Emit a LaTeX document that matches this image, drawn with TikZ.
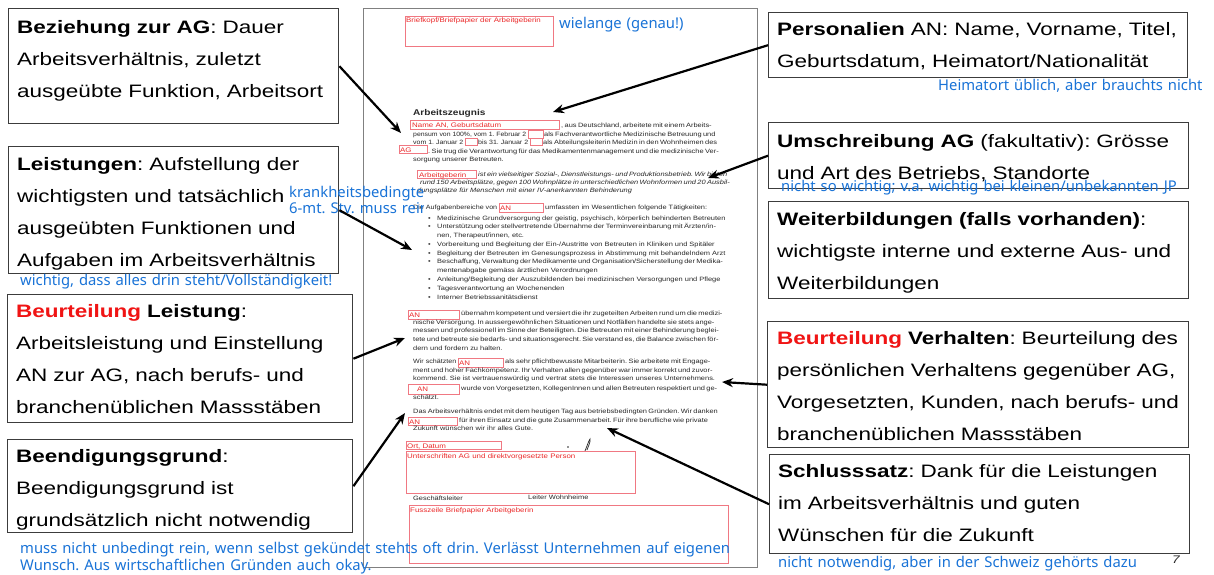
\documentclass[tikz,border=0pt]{standalone}
\usepackage{fontspec}
\usepackage{graphicx}
\usetikzlibrary{arrows.meta}
\setmainfont{Liberation Sans}
\newfontfamily\boxfont[FakeStretch=1.25]{Liberation Sans}
\newfontfamily\inkfont{Noto Sans}
\newfontfamily\docfont[FakeStretch=1.2]{Liberation Sans}
\frenchspacing

\definecolor{boxline}{RGB}{60,60,60}
\definecolor{pageline}{RGB}{128,128,128}
\definecolor{ink}{RGB}{25,115,215}
\definecolor{hlred}{RGB}{240,20,20}
\definecolor{fieldline}{RGB}{240,120,130}
\definecolor{fieldtext}{RGB}{235,40,40}
\definecolor{doctext}{RGB}{40,40,40}

% justified line of the letter body
\newcommand\jline[2]{\makebox[#1pt][s]{#2}}
% short text piece squeezed between two form fields
\newcommand\fitline[2]{\resizebox{#1pt}{\height}{#2}}

\tikzset{
  infobox/.style={draw=boxline, line width=1.4pt, fill=white, inner sep=0pt, anchor=north west},
  boxtext/.style={anchor=base west, inner sep=0pt, text width=440pt, align=left,
    font=\boxfont\fontsize{18}{32}\selectfont, text=black},
  note/.style={anchor=base west, inner sep=0pt, text width=760pt, align=left,
    font=\inkfont\fontsize{14.8}{17}\selectfont, text=ink},
  pointer/.style={draw=black, line width=2.2pt, -{Stealth[length=11pt, width=9pt]}},
  page/.style={draw=pageline, line width=1.2pt, fill=white, inner sep=0pt, anchor=north west},
  field/.style={draw=fieldline, line width=0.8pt, inner sep=0pt, anchor=north west},
  fieldlabel/.style={anchor=base west, inner sep=0pt, font=\docfont\fontsize{6.6}{7}\selectfont, text=fieldtext},
  doc/.style={anchor=base west, inner sep=0pt, font=\docfont\fontsize{6.2}{7}\selectfont, text=doctext},
  docit/.style={doc, font=\docfont\itshape\fontsize{6.2}{7}\selectfont},
}

\begin{document}
\begin{tikzpicture}[x=1pt, y=-1pt]
\useasboundingbox (0,0) rectangle (1214,574);
\fill[white] (0,0) rectangle (1214,574);

% ---------- the letter page ----------
\node[page, minimum width=394, minimum height=559] (pg) at (363,8) {};

\node[field, minimum width=148, minimum height=30] (fHead) at (405,16) {};
\node[fieldlabel] (fHeadL) at (406,22) {Briefkopf/Briefpapier der Arbeitgeberin};

\node[doc, font=\docfont\bfseries\fontsize{8.4}{9}\selectfont] (title) at (413,115) {Arbeitszeugnis};

% Personalien
\node[field, minimum width=149, minimum height=9] (fName) at (410,120) {};
\node[fieldlabel] (fNameL) at (412,127) {Name AN, Geburtsdatum};
\node[doc] (l1) at (561,127) {\jline{146}{, aus Deutschland, arbeitete mit einem Arbeits-}};
\node[doc] (l2a) at (413,136) {\fitline{113}{pensum von 100\%, vom 1. Februar 2}};
\node[field, minimum width=15, minimum height=8] (fD1) at (528,130) {};
\node[doc] (l2b) at (544,136) {\jline{163}{als Fachverantwortliche Medizinische Betreuung und}};
\node[doc] (l3a) at (413,144) {\fitline{50}{vom 1. Januar 2}};
\node[field, minimum width=12, minimum height=7] (fD2) at (465,138) {};
\node[doc] (l3b) at (478,144) {\fitline{50}{bis 31. Januar 2}};
\node[field, minimum width=12, minimum height=7] (fD3) at (530,138) {};
\node[doc] (l3c) at (543,144) {\jline{164}{als Abteilungsleiterin Medizin in den Wohnheimen des}};
\node[field, minimum width=28, minimum height=8] (fAG) at (399,145) {};
\node[fieldlabel] (fAGL) at (400,152) {AG};
\node[doc] (l4) at (428,153) {\jline{279}{. Sie trug die Verantwortung für das Medikamentenmanagement und die medizinische Ver-}};
\node[doc] (l5) at (413,161) {sorgung unserer Betreuten.};

% Umschreibung Arbeitgeberin
\node[field, minimum width=59, minimum height=8] (fAGb) at (417,170) {};
\node[fieldlabel] (fAGbL) at (419,177) {Arbeitgeberin};
\node[docit] (l6) at (478,176) {\jline{219}{ist ein vielseitiger Sozial-, Dienstleistungs- und Produktionsbetrieb. Wir bieten}};
\node[docit] (l7) at (420,184) {\jline{279}{rund 150 Arbeitsplätze, gegen 100 Wohnplätze in unterschiedlichen Wohnformen und 20 Ausbil-}};
\node[docit] (l8) at (417,192) {dungsplätze für Menschen mit einer IV-anerkannten Behinderung};

% Aufgaben
\node[doc] (l9a) at (413,209) {\fitline{84}{Die Aufgabenbereiche von}};
\node[field, minimum width=44, minimum height=9] (fAN1) at (499,203) {};
\node[fieldlabel] (fAN1L) at (500,210) {AN};
\node[doc] (l9b) at (545,209) {umfassten im Wesentlichen folgende Tätigkeiten:};
\foreach \y/\t in {220/{Medizinische Grundversorgung der geistig, psychisch, körperlich behinderten Betreuten},
                   246/{Vorbereitung und Begleitung der Ein-/Austritte von Betreuten in Kliniken und Spitäler},
                   255/{Begleitung der Betreuten im Genesungsprozess in Abstimmung mit behandelndem Arzt},
                   281/{Anleitung/Begleitung der Auszubildenden bei medizinischen Versorgungen und Pflege},
                   290/{Tagesverantwortung an Wochenenden},
                   299/{Interner Betriebssanitätsdienst}}{
  \node[doc] (dot\y) at (428,\y) {\textbullet};
  \node[doc] (item\y) at (437,\y) {\t};
}
\node[doc] (dot228) at (428,228) {\textbullet};
\node[doc] (item228) at (437,228) {\jline{270}{Unterstützung oder stellvertretende Übernahme der Terminvereinbarung mit Ärzten/in-}};
\node[doc] (item237) at (437,237) {nen, Therapeut/innen, etc.};
\node[doc] (dot263) at (428,263) {\textbullet};
\node[doc] (item263) at (437,263) {\jline{270}{Beschaffung, Verwaltung der Medikamente und Organisation/Sicherstellung der Medika-}};
\node[doc] (item272) at (437,272) {mentenabgabe gemäss ärztlichen Verordnungen};

% Leistungsbeurteilung
\node[field, minimum width=51, minimum height=9] (fAN2) at (408,310) {};
\node[fieldlabel] (fAN2L) at (409,317) {AN};
\node[doc] (p1a) at (461,315) {\jline{246}{übernahm kompetent und versiert die ihr zugeteilten Arbeiten rund um die medizi-}};
\node[doc] (p1b) at (413,324) {\jline{294}{nische Versorgung. In aussergewöhnlichen Situationen und Notfällen handelte sie stets ange-}};
\node[doc] (p1c) at (413,332) {\jline{294}{messen und professionell im Sinne der Beteiligten. Die Betreuten mit einer Behinderung beglei-}};
\node[doc] (p1d) at (413,341) {\jline{294}{tete und betreute sie bedarfs- und situationsgerecht. Sie verstand es, die Balance zwischen för-}};
\node[doc] (p1e) at (413,350) {dern und fordern zu halten.};

% Verhaltensbeurteilung
\node[doc] (p2a) at (413,363) {\fitline{43}{Wir schätzten}};
\node[field, minimum width=45, minimum height=9] (fAN3) at (458,358) {};
\node[fieldlabel] (fAN3L) at (459,365) {AN};
\node[doc] (p2b) at (505,363) {\jline{202}{als sehr pflichtbewusste Mitarbeiterin. Sie arbeitete mit Engage-}};
\node[doc] (p2c) at (413,372) {\jline{294}{ment und hoher Fachkompetenz. Ihr Verhalten allen gegenüber war immer korrekt und zuvor-}};
\node[doc] (p2d) at (413,380) {kommend. Sie ist vertrauenswürdig und vertrat stets die Interessen unseres Unternehmens.};
\node[field, minimum width=51, minimum height=10] (fAN4) at (408,384) {};
\node[fieldlabel] (fAN4L) at (417,391) {AN};
\node[doc] (p2e) at (461,390) {\jline{246}{wurde von Vorgesetzten, KollegenInnen und allen Betreuten respektiert und ge-}};
\node[doc] (p2f) at (413,399) {schätzt.};

% Beendigung und Schlusssatz
\node[doc] (p3a) at (413,413) {\jline{294}{Das Arbeitsverhältnis endet mit dem heutigen Tag aus betriebsbedingten Gründen. Wir danken}};
\node[field, minimum width=49, minimum height=8] (fAN5) at (408,417) {};
\node[fieldlabel] (fAN5L) at (409,424) {AN};
\node[doc] (p3b) at (459,422) {\jline{240}{für ihren Einsatz und die gute Zusammenarbeit. Für ihre berufliche wie private}};
\node[doc] (p3c) at (413,430) {Zukunft wünschen wir ihr alles Gute.};

% Ort, Unterschriften, Fusszeile
\node[field, minimum width=95, minimum height=8] (fOrt) at (406,441) {};
\node[fieldlabel] (fOrtL) at (407,448) {Ort, Datum};
\fill[doctext] (568,447) circle (0.8);
\draw[doctext, line width=0.7pt] (585,451) .. controls (587,446) and (589,440) .. (590,439) .. controls (591,441) and (588,447) .. (587,450);
\node[field, minimum width=229, minimum height=42] (fSign) at (406,451) {};
\node[fieldlabel] (fSignL) at (407,458) {Unterschriften AG und direktvorgesetzte Person};
\node[doc] (sig1) at (413,500) {Geschäftsleiter};
\node[doc] (sig2) at (528,499) {Leiter Wohnheime};
\node[field, minimum width=319, minimum height=58] (fFoot) at (409,505) {};
\node[fieldlabel] (fFootL) at (410,512) {Fusszeile Briefpapier Arbeitgeberin};

% ---------- explanatory boxes, left ----------
\node[infobox, minimum width=330, minimum height=115] (bez) at (8,8) {};
\node[boxtext] (bezT) at (17,33) {\textbf{Beziehung zur AG}: Dauer\\Arbeitsverhältnis, zuletzt\\ausgeübte Funktion, Arbeitsort};

\node[infobox, minimum width=330, minimum height=127] (leis) at (8,146) {};
\node[boxtext] (leisT) at (17,170) {\textbf{Leistungen}: Aufstellung der\\wichtigsten und tatsächlich\\ausgeübten Funktionen und\\Aufgaben im Arbeitsverhältnis};

\node[infobox, minimum width=345, minimum height=128] (beurL) at (7,294) {};
\node[boxtext] (beurLT) at (16,317) {\textbf{\textcolor{hlred}{Beurteilung} Leistung}:\\Arbeitsleistung und Einstellung\\AN zur AG, nach berufs- und\\branchenüblichen Massstäben};

\node[infobox, minimum width=345, minimum height=93] (beend) at (7,439) {};
\node[boxtext] (beendT) at (16,462) {\textbf{Beendigungsgrund}:\\Beendigungsgrund ist\\grundsätzlich nicht notwendig};

% ---------- explanatory boxes, right ----------
\node[infobox, minimum width=419, minimum height=65] (pers) at (768,12) {};
\node[boxtext] (persT) at (777,35) {\textbf{Personalien} AN: Name, Vorname, Titel,\\Geburtsdatum, Heimatort/Nationalität};

\node[infobox, minimum width=420, minimum height=66] (umsch) at (768,122) {};
\node[boxtext] (umschT) at (777,147) {\textbf{Umschreibung AG} (fakultativ): Grösse\\und Art des Betriebs, Standorte};

\node[infobox, minimum width=420, minimum height=97] (weiter) at (768,201) {};
\node[boxtext] (weiterT) at (777,225) {\textbf{Weiterbildungen (falls vorhanden)}:\\wichtigste interne und externe Aus- und\\Weiterbildungen};

\node[infobox, minimum width=421, minimum height=126] (verh) at (767,321) {};
\node[boxtext] (verhT) at (777,344) {\textbf{\textcolor{hlred}{Beurteilung} Verhalten}: Beurteilung des\\persönlichen Verhaltens gegenüber AG,\\Vorgesetzten, Kunden, nach berufs- und\\branchenüblichen Massstäben};

\node[infobox, minimum width=420, minimum height=99] (schluss) at (769,454) {};
\node[boxtext] (schlussT) at (778,477) {\textbf{Schlusssatz}: Dank für die Leistungen\\im Arbeitsverhältnis und guten\\Wünschen für die Zukunft};

\node[anchor=base west, inner sep=0pt, font=\boxfont\itshape\fontsize{11}{12}\selectfont, text=doctext] (pnum) at (1172,563) {7};

% ---------- handwritten notes ----------
\node[note] (nWie) at (559,28) {wielange (genau!)};
\node[note] (nHeim) at (938,90) {Heimatort üblich, aber brauchts nicht};
\node[note] (nUms) at (781,191) {nicht so wichtig; v.a. wichtig bei kleinen/unbekannten JP};
\node[note] (nVoll) at (20,285) {wichtig, dass alles drin steht/Vollständigkeit!};
\begin{scope}
  \clip (280,180) rectangle (423,222);
  \node[note, text width=200pt] (nKrank) at (289,197) {krankheitsbedingte\\[-1pt]6-mt. Stv. muss rein};
\end{scope}
\node[note] (nMuss) at (20,553) {muss nicht unbedingt rein, wenn selbst gekündet stehts oft drin. Verlässt Unternehmen auf eigenen\\Wunsch. Aus wirtschaftlichen Gründen auch okay.};
\node[note] (nCH) at (778,567) {nicht notwendig, aber in der Schweiz gehörts dazu};

% ---------- pointers into the letter ----------
\coordinate (tBez) at (401,133);
\coordinate (tPers) at (553,112);
\coordinate (tUms) at (708,178);
\coordinate (tLeis) at (412,250);
\coordinate (tBeurL) at (405,338);
\coordinate (tBeend) at (405,413);
\coordinate (tVerh) at (722,382);
\coordinate (tSchluss) at (607,428);

\draw[pointer] (bez.east) -- (tBez);
\draw[pointer] (pers.west) -- (tPers);
\draw[pointer] (umsch.west) -- (tUms);
\draw[pointer] (leis.east) -- (tLeis);
\draw[pointer] (beurL.east) -- (tBeurL);
\draw[pointer] (beend.east) -- (tBeend);
\draw[pointer] (verh.west) -- (tVerh);
\draw[pointer] (schluss.west) -- (tSchluss);
\end{tikzpicture}
\end{document}
